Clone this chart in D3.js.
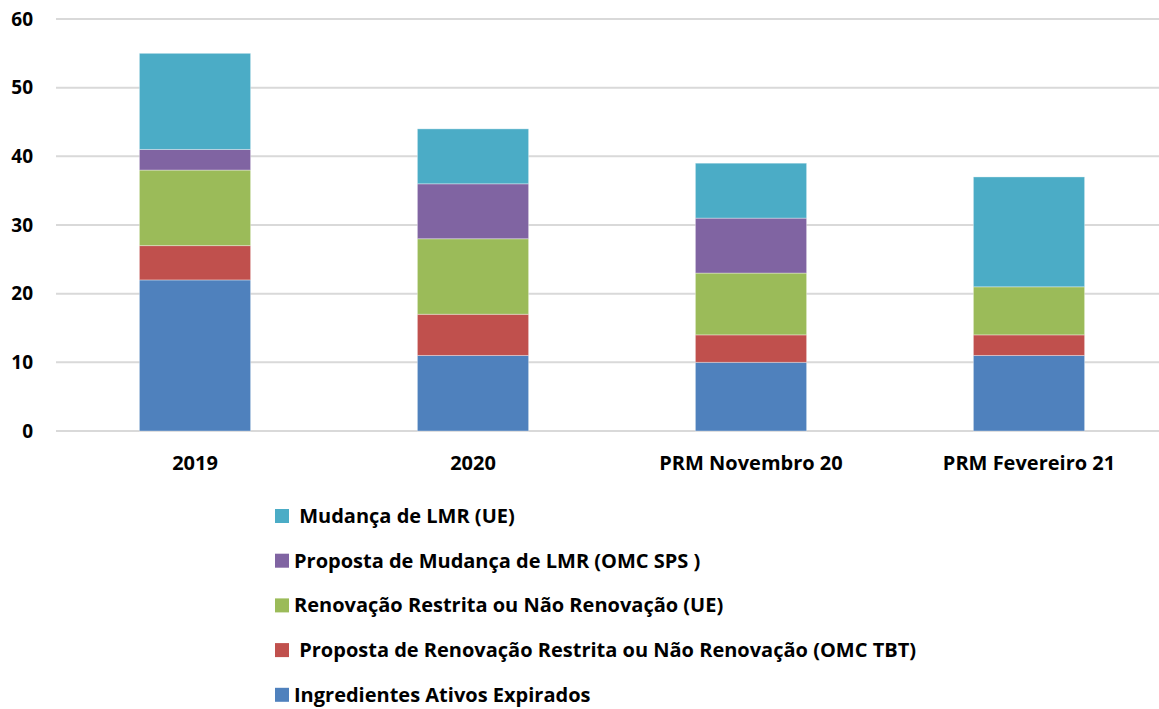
<!DOCTYPE html>
<html>
<head>
<meta charset="utf-8">
<script src="https://cdn.jsdelivr.net/npm/d3@7"></script>
<style>
  body { margin: 0; background: #fff; }
  text { font-family: "Open Sans", Lato, sans-serif; font-weight: bold; fill: #000; }
</style>
</head>
<body>
<svg id="chart" width="1159" height="709"></svg>
<script>
// ----- Data -----
const categories = ["2019", "2020", "PRM Novembro 20", "PRM Fevereiro 21"];
const seriesNames = [
  "Ingredientes Ativos Expirados",
  " Proposta de Renovação Restrita ou Não Renovação (OMC TBT)",
  "Renovação Restrita ou Não Renovação (UE)",
  "Proposta de Mudança de LMR (OMC SPS )",
  " Mudança de LMR (UE)"
];
const ingredientes = [22, 11, 10, 11];
const propostaRenov = [5, 6, 4, 3];
const renovacao = [11, 11, 9, 7];
const propostaLMR = [3, 8, 8, 0];
const mudancaLMR = [14, 8, 8, 16];
const yTicks = [0, 10, 20, 30, 40, 50, 60];

const colors = ["#4F81BD", "#C0504D", "#9BBB59", "#8064A2", "#4BACC6"];
const seriesValues = [ingredientes, propostaRenov, renovacao, propostaLMR, mudancaLMR];

// ----- Layout -----
const svg = d3.select("#chart");
const plotLeft = 56, plotRight = 1168, plotTop = 19, plotBottom = 431;

const x = d3.scaleBand().domain(categories).range([plotLeft, plotRight]).paddingInner(0.6).paddingOuter(0.3);
const y = d3.scaleLinear().domain([0, 60]).range([plotBottom, plotTop]);

// build rows for d3.stack
const rows = categories.map((c, i) => {
  const r = { cat: c };
  seriesNames.forEach((s, j) => { r[s] = seriesValues[j][i]; });
  return r;
});
const stacked = d3.stack().keys(seriesNames)(rows);

// gridlines
svg.append("g")
  .selectAll("line").data(yTicks).join("line")
  .attr("x1", plotLeft).attr("x2", 1159)
  .attr("y1", d => y(d)).attr("y2", d => y(d))
  .attr("stroke", "#d9d9d9").attr("stroke-width", 2);

// y labels
svg.append("g")
  .selectAll("text").data(yTicks).join("text")
  .attr("x", 33).attr("y", d => y(d))
  .attr("dy", "0.35em")
  .attr("text-anchor", "end")
  .attr("font-size", 19)
  .text(d => d);

// bars
svg.append("g")
  .selectAll("g").data(stacked).join("g")
  .attr("fill", (d, i) => colors[i])
  .selectAll("rect").data(d => d).join("rect")
  .attr("x", d => x(d.data.cat))
  .attr("width", x.bandwidth())
  .attr("y", d => y(d[1]))
  .attr("height", d => y(d[0]) - y(d[1]))
  .attr("stroke", "rgba(255,255,255,0.35)")
  .attr("stroke-width", d => d[1] > d[0] ? 1 : 0);

// category labels
svg.append("g")
  .selectAll("text").data(categories).join("text")
  .attr("x", d => x(d) + x.bandwidth() / 2)
  .attr("y", 470)
  .attr("text-anchor", "middle")
  .attr("font-size", 20)
  .text(d => d);

// legend (reverse order, top = last series)
const legendItems = seriesNames.map((s, i) => ({ name: s, color: colors[i] })).reverse();
const lg = svg.append("g").selectAll("g").data(legendItems).join("g")
  .attr("transform", (d, i) => `translate(275, ${516 + i * 44.7})`);
lg.append("rect")
  .attr("x", 0).attr("y", -7).attr("width", 14).attr("height", 14)
  .attr("fill", d => d.color);
lg.append("text")
  .attr("x", 19).attr("dy", "0.35em")
  .attr("font-size", 20)
  .style("white-space", "pre")
  .text(d => d.name);
</script>
</body>
</html>
